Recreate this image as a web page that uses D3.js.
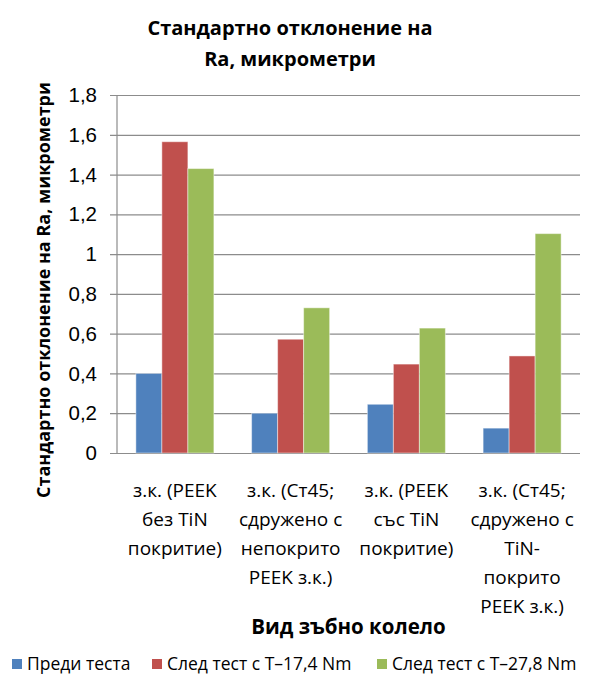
<!DOCTYPE html>
<html>
<head>
<meta charset="utf-8">
<script src="https://cdn.jsdelivr.net/npm/d3@7"></script>
<style>
  body { margin: 0; background: #fff; }
  svg { display: block; font-family: "Open Sans", "Noto Sans", sans-serif; }
</style>
</head>
<body>
<svg id="chart" width="590" height="675"></svg>
<script>
// --- data ---
const categories = [
    ["з.к. (PEEK", "без TiN", "покритие)"],
    ["з.к. (Ст45;", "сдружено с", "непокрито", "PEEK з.к.)"],
    ["з.к. (PEEK", "със TiN", "покритие)"],
    ["з.к. (Ст45;", "сдружено с", "TiN-", "покрито", "PEEK з.к.)"]
];
const seriesNames = ["Преди теста", "След тест с Т–17,4 Nm", "След тест с Т–27,8 Nm"];
const beforeTest = [0.40, 0.20, 0.245, 0.125];
const after174 = [1.565, 0.572, 0.447, 0.488];
const after278 = [1.43, 0.73, 0.628, 1.103];
const yTicks = [0, 0.2, 0.4, 0.6, 0.8, 1, 1.2, 1.4, 1.6, 1.8];
const seriesColors = ["#4F81BD", "#C0504D", "#9BBB59"];

const seriesValues = [beforeTest, after174, after278];

const svg = d3.select("#chart");
const margin = { top: 95, right: 10, bottom: 222, left: 117 };
const width = +svg.attr("width") - margin.left - margin.right;
const height = +svg.attr("height") - margin.top - margin.bottom;

const chart = svg.append("g")
    .attr("transform", `translate(${margin.left}, ${margin.top})`);

// --- scales ---
const catIdx = d3.range(categories.length);
const x = d3.scaleBand()
    .domain(catIdx)
    .range([0, width])
    .paddingInner(0.326)
    .paddingOuter(0.163);

const xs = d3.scaleBand()
    .domain(d3.range(seriesNames.length))
    .range([0, x.bandwidth()]);

const y = d3.scaleLinear()
    .domain([0, 1.8])
    .range([height, 0]);

const fmt = v => String(v).replace(".", ",");

// --- gridlines + y axis ---
const yAxis = chart.append("g")
    .call(d3.axisLeft(y).tickValues(yTicks).tickSize(-width).tickPadding(20).tickFormat(fmt));
yAxis.select(".domain").remove();
yAxis.selectAll(".tick line")
    .attr("x1", -7)
    .attr("stroke", "#8c8c8c")
    .attr("stroke-width", 1.2);
yAxis.selectAll(".tick text")
    .attr("fill", "#000")
    .style("font-size", "20.5px");

// vertical axis line
chart.append("line")
    .attr("x1", 0).attr("x2", 0)
    .attr("y1", 0).attr("y2", height)
    .attr("stroke", "#8c8c8c")
    .attr("stroke-width", 1.2);

// --- bars ---
const groups = chart.append("g")
    .selectAll("g")
    .data(catIdx)
    .join("g")
    .attr("transform", i => `translate(${x(i)},0)`);

groups.selectAll("rect")
    .data(i => seriesValues.map((vals, s) => ({ s, v: vals[i] })))
    .join("rect")
    .attr("x", d => xs(d.s))
    .attr("y", d => y(d.v))
    .attr("width", xs.bandwidth())
    .attr("height", d => height - y(d.v))
    .attr("fill", d => seriesColors[d.s])
    .attr("stroke", "rgba(255,255,255,0.45)")
    .attr("stroke-width", 1);

// --- category labels ---
const catLabels = chart.append("g")
    .selectAll("text")
    .data(catIdx)
    .join("text")
    .attr("x", i => x(i) + x.bandwidth() / 2)
    .attr("y", height + 44)
    .attr("text-anchor", "middle")
    .style("font-size", "19px")
    .attr("fill", "#000");

catLabels.selectAll("tspan")
    .data(i => categories[i])
    .join("tspan")
    .attr("x", function () { return d3.select(this.parentNode).attr("x"); })
    .attr("dy", (d, j) => j === 0 ? 0 : 29)
    .text(d => d);

// --- titles ---
svg.append("text")
    .attr("x", 290)
    .attr("text-anchor", "middle")
    .style("font-size", "20px")
    .style("font-weight", "bold")
    .selectAll("tspan")
    .data(["Стандартно отклонение на", "Ra, микрометри"])
    .join("tspan")
    .attr("x", 290)
    .attr("y", (d, i) => 35 + i * 31)
    .text(d => d);

svg.append("text")
    .attr("transform", `translate(50, 290) rotate(-90)`)
    .attr("text-anchor", "middle")
    .style("font-size", "18px")
    .style("font-weight", "bold")
    .text("Стандартно отклонение на Ra, микрометри");

svg.append("text")
    .attr("x", margin.left + width / 2)
    .attr("y", 634)
    .attr("text-anchor", "middle")
    .style("font-size", "20.5px")
    .style("font-weight", "bold")
    .text("Вид зъбно колело");

// --- legend ---
const legendX = [12, 152, 377];
const legend = svg.append("g")
    .selectAll("g")
    .data(seriesNames)
    .join("g")
    .attr("transform", (d, i) => `translate(${legendX[i]}, 664)`);

legend.append("rect")
    .attr("x", 0).attr("y", -5)
    .attr("width", 10).attr("height", 10)
    .attr("fill", (d, i) => seriesColors[i]);

legend.append("text")
    .attr("x", 15)
    .attr("y", 6)
    .style("font-size", "17.5px")
    .text(d => d);
</script>
</body>
</html>
